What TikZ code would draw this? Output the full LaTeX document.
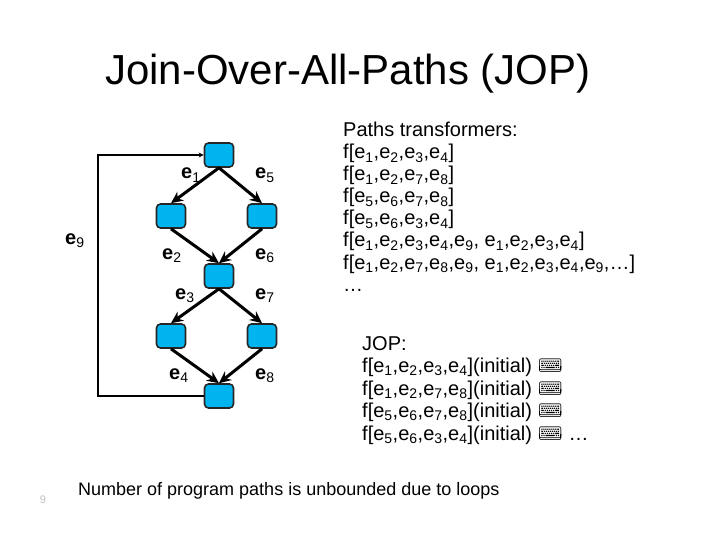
\documentclass[tikz,border=0pt]{standalone}
\usepackage{fontspec}
\setmainfont{Liberation Sans}
\newfontfamily\emojifont{Noto Emoji}
\usetikzlibrary{
		calc,
		positioning,
		arrows.meta
	}
\definecolor{cfgblue}{RGB}{0,180,240}
\tikzset{
		>=stealth,
		block/.style={draw=black!85, line width=1.6pt, fill=cfgblue, rounded corners=4pt,
			minimum width=29pt, minimum height=24pt, inner sep=0pt},
		flow/.style={line width=3pt, -{Stealth[length=12pt,width=11pt]}},
		backedge/.style={line width=1.4pt, -{Stealth[length=5pt,width=5pt]}},
		elabel/.style={anchor=base west, inner sep=0pt, font=\fontsize{20}{22}\selectfont},
		txt/.style={anchor=base west, inner sep=0pt, font=\fontsize{20}{22}\selectfont}
	}
\newcommand{\ee}[1]{e\textsubscript{#1}}
\newcommand{\kbd}{{\emojifont ⌨}}

\begin{document}
\begin{tikzpicture}[x=1pt,y=-1pt]
\useasboundingbox (0,0) rectangle (720,540);
% title
\node[anchor=base, inner sep=0pt, font=\fontsize{42}{46}\selectfont] (title) at (348,85) {Join-Over-All-Paths (JOP)};
% control flow graph
\node[block] (top) at (219,155) {};
\node[block] (l1) at (171,216) {};
\node[block] (r1) at (262,216) {};
\node[block] (mid) at (219,276) {};
\node[block] (l2) at (171,336) {};
\node[block] (r2) at (262,336) {};
\node[block] (bot) at (219,396) {};
\draw[flow] (top.south) -- (l1.north);
\draw[flow] (top.south) -- (r1.north);
\draw[flow] (l1.south) -- (mid.north);
\draw[flow] (r1.south) -- (mid.north);
\draw[flow] (mid.south) -- (l2.north);
\draw[flow] (mid.south) -- (r2.north);
\draw[flow] (l2.south) -- (bot.north);
\draw[flow] (r2.south) -- (bot.north);
\coordinate (corner) at (98,155);
\draw[backedge] (bot.west) -| (corner) -- (top.west);
% edge labels
\node[elabel] (le1) at (181,179) {\textbf{e}\textsubscript{1}};
\node[elabel] (le5) at (255,179) {\textbf{e}\textsubscript{5}};
\node[elabel] (le2) at (162,259) {\textbf{e}\textsubscript{2}};
\node[elabel] (le6) at (255,259) {\textbf{e}\textsubscript{6}};
\node[elabel] (le3) at (175,299) {\textbf{e}\textsubscript{3}};
\node[elabel] (le7) at (255,299) {\textbf{e}\textsubscript{7}};
\node[elabel] (le4) at (169,379) {\textbf{e}\textsubscript{4}};
\node[elabel] (le8) at (255,379) {\textbf{e}\textsubscript{8}};
\node[elabel] (le9) at (65,244) {\textbf{e}\textsubscript{9}};
% path transformers
\node[txt] (pt0) at (343,137) {Paths transformers:};
\node[txt] (pt1) at (343,159) {f[\ee1,\ee2,\ee3,\ee4]};
\node[txt] (pt2) at (343,181) {f[\ee1,\ee2,\ee7,\ee8]};
\node[txt] (pt3) at (343,203) {f[\ee5,\ee6,\ee7,\ee8]};
\node[txt] (pt4) at (343,225) {f[\ee5,\ee6,\ee3,\ee4]};
\node[txt] (pt5) at (343,247) {f[\ee1,\ee2,\ee3,\ee4,\ee9, \ee1,\ee2,\ee3,\ee4]};
\node[txt] (pt6) at (343,269) {f[\ee1,\ee2,\ee7,\ee8,\ee9, \ee1,\ee2,\ee3,\ee4,\ee9,…]};
\node[txt] (pt7) at (343,291) {…};
% jop
\node[txt] (jop0) at (362,350) {JOP:};
\node[txt] (jop1) at (362,372) {f[\ee1,\ee2,\ee3,\ee4](initial) \kbd};
\node[txt] (jop2) at (362,395) {f[\ee1,\ee2,\ee7,\ee8](initial) \kbd};
\node[txt] (jop3) at (362,417) {f[\ee5,\ee6,\ee7,\ee8](initial) \kbd};
\node[txt] (jop4) at (362,440) {f[\ee5,\ee6,\ee3,\ee4](initial) \kbd{} …};
% footer
\node[anchor=base west, inner sep=0pt, font=\fontsize{18}{20}\selectfont] (note) at (78,495) {Number of program paths is unbounded due to loops};
\node[anchor=base, inner sep=0pt, text=black!25, font=\fontsize{11}{12}\selectfont] (pageno) at (43,503) {9};
\end{tikzpicture}
\end{document}
